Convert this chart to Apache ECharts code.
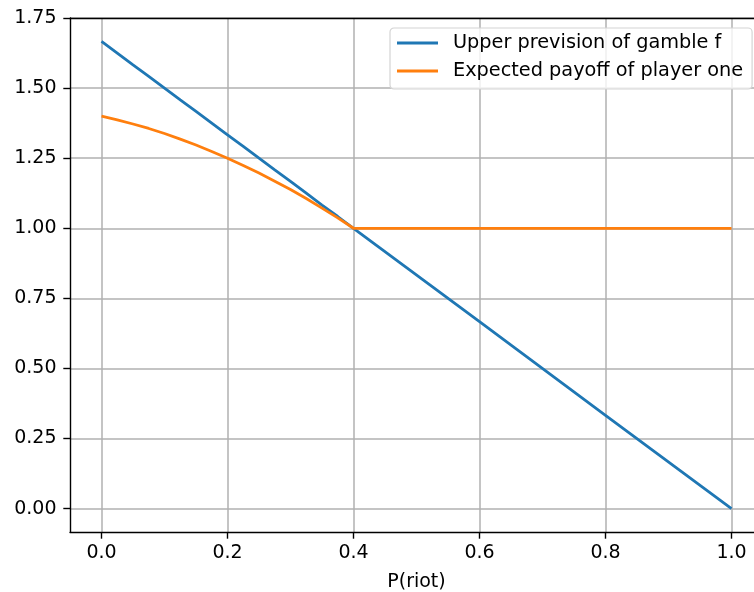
<!DOCTYPE html>
<html>
<head>
<meta charset="utf-8">
<script src="https://cdn.jsdelivr.net/npm/echarts@6/dist/echarts.min.js"></script>
<style>
  html, body { margin: 0; padding: 0; background: #fff; }
  #chart { width: 754px; height: 592px; }
</style>
</head>
<body>
<div id="chart"></div>
<script>
// Probability of a riot (x) and the two quantities compared against it
const riotProb = [0, 0.025, 0.05, 0.075, 0.1, 0.125, 0.15, 0.175, 0.2, 0.225, 0.25, 0.275,
                  0.3, 0.325, 0.35, 0.375, 0.4, 0.6, 0.8, 1.0];
const upperPrevision = [1.667, 1.625, 1.583, 1.542, 1.5, 1.458, 1.417, 1.375, 1.333, 1.292, 1.25, 1.208,
                        1.167, 1.125, 1.083, 1.042, 1.0, 0.667, 0.333, 0.0];
const expectedPayoff = [1.40, 1.387, 1.372, 1.356, 1.338, 1.318, 1.297, 1.274, 1.25, 1.224, 1.197, 1.168,
                        1.138, 1.106, 1.072, 1.037, 1.0, 1.0, 1.0, 1.0];

const xTicks = [0, 0.2, 0.4, 0.6, 0.8, 1.0];
const yTicks = [0, 0.25, 0.5, 0.75, 1.0, 1.25, 1.5, 1.75];

const seriesNames = ['Upper prevision of gamble f', 'Expected payoff of player one'];

const FONT = 'DejaVu Sans';
const FS = 19;
const X_MIN = -0.05, X_MAX = 1.05;
const chart = echarts.init(document.getElementById('chart'), null, { renderer: 'canvas' });

const pairs = (xs, ys) => xs.map((x, i) => [x, ys[i]]);
const spine = { show: true, onZero: false, lineStyle: { color: '#000', width: 1.4 } };
const tickStyle = { color: '#000', width: 1.4 };
const gridLine = { show: true, lineStyle: { color: '#b0b0b0', width: 1.5 } };

chart.setOption({
  animation: false,
  backgroundColor: '#ffffff',
  grid: {
    left: 70, top: 18, width: 693, height: 514,
    outerBoundsMode: 'none'
  },
  legend: {
    data: seriesNames,
    orient: 'vertical',
    left: 390, top: 28,
    padding: [4, 9, 7, 7],
    itemGap: 6,
    icon: 'rect',
    itemWidth: 41, itemHeight: 2.8,
    backgroundColor: 'rgba(255,255,255,0.8)',
    borderColor: '#d4d4d4', borderWidth: 1.2, borderRadius: 4,
    textStyle: { fontFamily: FONT, fontSize: 19.3, color: '#000', lineHeight: 22, padding: [0, 0, 0, 10] }
  },
  xAxis: [
    {
      type: 'value',
      min: X_MIN, max: X_MAX,
      name: 'P(riot)', nameLocation: 'middle', nameGap: 41,
      nameTextStyle: { fontFamily: FONT, fontSize: FS, color: '#000' },
      axisLine: spine,
      axisTick: { show: true, length: 6.7, customValues: xTicks, lineStyle: tickStyle },
      axisLabel: {
        customValues: xTicks, margin: 12,
        fontFamily: FONT, fontSize: FS, color: '#000',
        formatter: v => v.toFixed(1)
      },
      splitLine: gridLine
    },
    {
      // top frame edge only
      type: 'value', position: 'top',
      min: X_MIN, max: X_MAX,
      axisLine: spine,
      axisTick: { show: false }, axisLabel: { show: false }, splitLine: { show: false }
    }
  ],
  yAxis: {
    type: 'value',
    min: -0.0833, max: 1.75,
    axisLine: spine,
    axisTick: { show: true, length: 6.7, customValues: yTicks, lineStyle: tickStyle },
    axisLabel: {
      customValues: yTicks, margin: 13.5,
      fontFamily: FONT, fontSize: FS, color: '#000',
      formatter: v => v.toFixed(2)
    },
    splitLine: gridLine
  },
  series: [
    {
      name: seriesNames[0], type: 'line', symbol: 'none', xAxisIndex: 0,
      data: pairs(riotProb, upperPrevision),
      lineStyle: { color: '#1f77b4', width: 2.8 }, itemStyle: { color: '#1f77b4' }
    },
    {
      name: seriesNames[1], type: 'line', symbol: 'none', xAxisIndex: 0,
      data: pairs(riotProb, expectedPayoff),
      lineStyle: { color: '#ff7f0e', width: 2.8 }, itemStyle: { color: '#ff7f0e' }
    }
  ]
});
</script>
</body>
</html>
